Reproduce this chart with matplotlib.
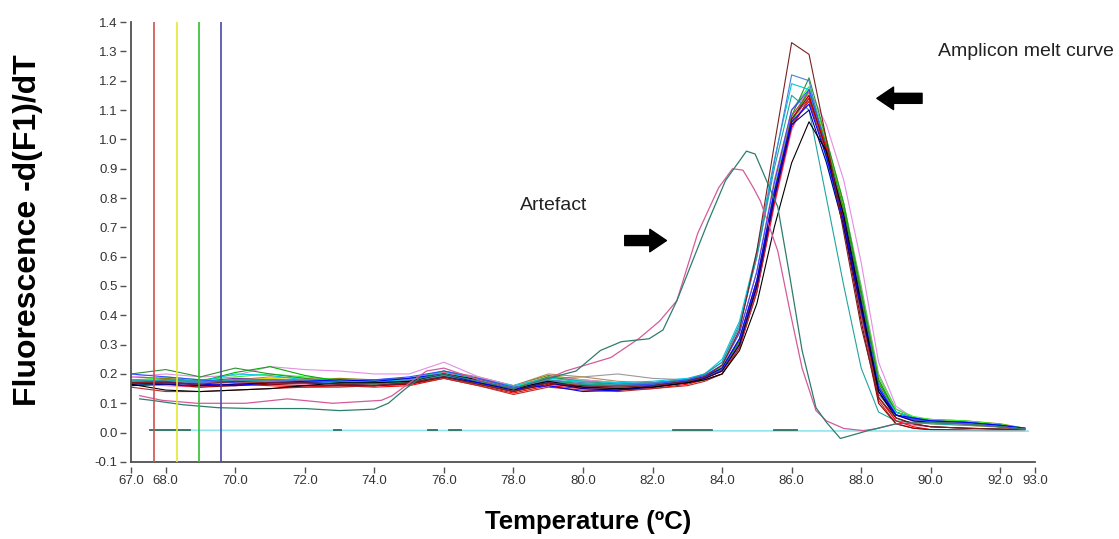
import matplotlib
matplotlib.use("Agg")
import matplotlib.pyplot as plt
import numpy as np

plt.rcParams['font.family'] = ['Liberation Sans', 'DejaVu Sans']

# temperature grid shared by the main melt curves (deg C)
temps = [67.0, 68.0, 69.0, 70.0, 71.0, 72.0, 73.0, 74.0, 75.0, 76.0, 77.0, 78.0,
         79.0, 80.0, 81.0, 82.0, 83.0, 83.5, 84.0, 84.5, 85.0, 85.5, 86.0, 86.5,
         87.0, 87.5, 88.0, 88.5, 89.0, 89.5, 90.0, 91.0, 92.0, 92.7]

# main amplicon curves, -d(F1)/dT
brown = [0.17, 0.17, 0.165, 0.175, 0.17, 0.17, 0.165, 0.16, 0.17, 0.19, 0.165, 0.14,
         0.17, 0.16, 0.155, 0.16, 0.175, 0.19, 0.23, 0.35, 0.62, 0.98, 1.33, 1.29,
         1.0, 0.68, 0.36, 0.12, 0.05, 0.03, 0.02, 0.015, 0.012, 0.01]
steel = [0.18, 0.175, 0.17, 0.18, 0.18, 0.175, 0.17, 0.17, 0.175, 0.2, 0.175, 0.15,
         0.18, 0.17, 0.165, 0.17, 0.18, 0.2, 0.24, 0.36, 0.6, 0.92, 1.22, 1.2,
         0.95, 0.7, 0.4, 0.13, 0.06, 0.045, 0.04, 0.03, 0.02, 0.012]
cyan = [0.175, 0.18, 0.175, 0.2, 0.195, 0.18, 0.175, 0.175, 0.18, 0.21, 0.18, 0.16,
        0.185, 0.175, 0.17, 0.175, 0.185, 0.2, 0.25, 0.38, 0.62, 0.93, 1.19, 1.17,
        0.93, 0.7, 0.42, 0.15, 0.07, 0.05, 0.04, 0.035, 0.025, 0.015]
dkgreen = [0.2, 0.215, 0.19, 0.22, 0.2, 0.185, 0.17, 0.165, 0.175, 0.2, 0.17, 0.15,
           0.19, 0.175, 0.165, 0.17, 0.18, 0.19, 0.22, 0.31, 0.5, 0.8, 1.08, 1.21,
           1.0, 0.78, 0.48, 0.18, 0.07, 0.05, 0.04, 0.035, 0.025, 0.015]
green = [0.16, 0.17, 0.175, 0.205, 0.225, 0.195, 0.175, 0.17, 0.17, 0.19, 0.165, 0.14,
         0.18, 0.165, 0.16, 0.165, 0.175, 0.19, 0.22, 0.31, 0.5, 0.8, 1.06, 1.17,
         0.98, 0.76, 0.47, 0.17, 0.07, 0.05, 0.04, 0.03, 0.02, 0.012]
black = [0.165, 0.145, 0.14, 0.145, 0.15, 0.16, 0.17, 0.17, 0.175, 0.2, 0.18, 0.15,
         0.175, 0.155, 0.15, 0.155, 0.17, 0.18, 0.2, 0.28, 0.44, 0.7, 0.92, 1.06,
         0.96, 0.74, 0.44, 0.14, 0.05, 0.03, 0.02, 0.015, 0.012, 0.01]
blue = [0.165, 0.17, 0.165, 0.16, 0.17, 0.175, 0.18, 0.175, 0.185, 0.2, 0.17, 0.15,
        0.16, 0.14, 0.145, 0.16, 0.175, 0.19, 0.22, 0.32, 0.52, 0.82, 1.06, 1.12,
        0.94, 0.72, 0.43, 0.15, 0.06, 0.05, 0.04, 0.035, 0.025, 0.015]
navy = [0.16, 0.165, 0.16, 0.165, 0.17, 0.17, 0.165, 0.16, 0.17, 0.19, 0.17, 0.145,
        0.17, 0.15, 0.145, 0.155, 0.17, 0.185, 0.21, 0.3, 0.5, 0.8, 1.05, 1.1,
        0.92, 0.7, 0.42, 0.14, 0.06, 0.04, 0.035, 0.03, 0.02, 0.012]
red = [0.17, 0.175, 0.16, 0.165, 0.16, 0.155, 0.16, 0.155, 0.16, 0.185, 0.16, 0.135,
       0.16, 0.15, 0.145, 0.15, 0.165, 0.18, 0.2, 0.29, 0.48, 0.78, 1.04, 1.14,
       0.97, 0.73, 0.42, 0.12, 0.04, 0.02, 0.01, 0.008, 0.006, 0.005]
darkred = [0.17, 0.165, 0.155, 0.16, 0.165, 0.16, 0.16, 0.16, 0.165, 0.19, 0.165, 0.14,
           0.165, 0.155, 0.15, 0.155, 0.17, 0.185, 0.21, 0.3, 0.5, 0.8, 1.07, 1.15,
           0.96, 0.7, 0.38, 0.1, 0.03, 0.015, 0.01, 0.008, 0.006, 0.005]
violet = [0.19, 0.2, 0.19, 0.195, 0.225, 0.215, 0.21, 0.2, 0.2, 0.24, 0.19, 0.16,
          0.19, 0.18, 0.17, 0.17, 0.18, 0.19, 0.22, 0.3, 0.48, 0.77, 1.03, 1.17,
          1.05, 0.86, 0.58, 0.24, 0.09, 0.05, 0.04, 0.035, 0.025, 0.015]
magenta = [0.175, 0.17, 0.17, 0.175, 0.18, 0.18, 0.175, 0.17, 0.18, 0.2, 0.175, 0.15,
           0.175, 0.165, 0.16, 0.165, 0.175, 0.19, 0.22, 0.32, 0.52, 0.82, 1.08, 1.16,
           0.97, 0.74, 0.45, 0.16, 0.06, 0.04, 0.035, 0.03, 0.02, 0.012]
yellow = [0.17, 0.175, 0.17, 0.18, 0.185, 0.18, 0.175, 0.17, 0.18, 0.2, 0.17, 0.145,
          0.17, 0.16, 0.155, 0.16, 0.17, 0.185, 0.21, 0.3, 0.5, 0.8, 1.06, 1.15,
          0.99, 0.77, 0.48, 0.17, 0.07, 0.045, 0.035, 0.03, 0.02, 0.012]
tan = [0.18, 0.185, 0.175, 0.18, 0.19, 0.185, 0.18, 0.18, 0.185, 0.21, 0.19, 0.16,
       0.2, 0.19, 0.175, 0.17, 0.18, 0.19, 0.21, 0.3, 0.5, 0.8, 1.05, 1.13,
       0.98, 0.76, 0.46, 0.16, 0.06, 0.045, 0.04, 0.035, 0.025, 0.015]
teal = [0.175, 0.18, 0.175, 0.18, 0.175, 0.17, 0.17, 0.17, 0.175, 0.195, 0.17, 0.15,
        0.175, 0.165, 0.16, 0.165, 0.18, 0.2, 0.24, 0.37, 0.6, 0.9, 1.15, 1.1,
        0.8, 0.5, 0.22, 0.07, 0.04, 0.035, 0.03, 0.025, 0.02, 0.012]
purple = [0.17, 0.18, 0.175, 0.185, 0.18, 0.175, 0.17, 0.165, 0.175, 0.195, 0.17, 0.145,
          0.175, 0.165, 0.16, 0.16, 0.175, 0.19, 0.215, 0.31, 0.51, 0.81, 1.07, 1.14,
          0.96, 0.73, 0.44, 0.15, 0.06, 0.045, 0.04, 0.035, 0.025, 0.015]
orange = [0.165, 0.17, 0.165, 0.17, 0.175, 0.17, 0.165, 0.165, 0.17, 0.195, 0.17, 0.14,
          0.17, 0.16, 0.155, 0.16, 0.17, 0.185, 0.21, 0.31, 0.51, 0.81, 1.08, 1.16,
          0.99, 0.75, 0.46, 0.16, 0.06, 0.04, 0.03, 0.025, 0.018, 0.01]
gray = [0.17, 0.17, 0.165, 0.175, 0.18, 0.175, 0.17, 0.17, 0.18, 0.2, 0.18, 0.15,
        0.185, 0.19, 0.2, 0.185, 0.18, 0.19, 0.215, 0.31, 0.51, 0.8, 1.06, 1.15,
        0.99, 0.78, 0.5, 0.2, 0.08, 0.05, 0.04, 0.035, 0.025, 0.015]
lime = [0.175, 0.19, 0.18, 0.19, 0.2, 0.19, 0.18, 0.175, 0.18, 0.21, 0.18, 0.155,
        0.19, 0.17, 0.165, 0.17, 0.18, 0.195, 0.225, 0.32, 0.52, 0.83, 1.1, 1.18,
        1.0, 0.78, 0.49, 0.19, 0.08, 0.055, 0.045, 0.04, 0.028, 0.015]
pink = [0.165, 0.16, 0.155, 0.165, 0.17, 0.165, 0.16, 0.165, 0.175, 0.205, 0.175, 0.145,
        0.17, 0.16, 0.155, 0.16, 0.175, 0.195, 0.23, 0.34, 0.55, 0.86, 1.1, 1.16,
        0.95, 0.71, 0.4, 0.12, 0.04, 0.025, 0.02, 0.015, 0.01, 0.008]
maroon = [0.155, 0.14, 0.14, 0.145, 0.15, 0.155, 0.155, 0.16, 0.165, 0.185, 0.16, 0.13,
          0.155, 0.145, 0.14, 0.15, 0.16, 0.175, 0.2, 0.29, 0.48, 0.79, 1.05, 1.13,
          0.95, 0.72, 0.41, 0.11, 0.03, 0.015, 0.01, 0.008, 0.006, 0.005]
olive = [0.19, 0.185, 0.175, 0.17, 0.175, 0.18, 0.185, 0.18, 0.185, 0.205, 0.185, 0.16,
         0.195, 0.18, 0.17, 0.165, 0.175, 0.19, 0.215, 0.31, 0.51, 0.81, 1.06, 1.15,
         0.99, 0.77, 0.48, 0.18, 0.07, 0.05, 0.045, 0.04, 0.03, 0.015]
royal = [0.2, 0.19, 0.18, 0.17, 0.165, 0.17, 0.175, 0.18, 0.19, 0.21, 0.185, 0.155,
         0.17, 0.155, 0.16, 0.165, 0.18, 0.195, 0.23, 0.34, 0.55, 0.85, 1.1, 1.17,
         0.97, 0.74, 0.45, 0.16, 0.06, 0.045, 0.04, 0.035, 0.025, 0.013]

main_curves = [
    (gray, '#9a9a9a'), (tan, '#b8895a'), (olive, '#80800a'), (violet, '#e48ee4'),
    (yellow, '#e0d800'), (orange, '#ff8c1a'), (lime, '#33ee33'), (purple, '#7a2fa8'),
    (magenta, '#cc3399'), (pink, '#ff66aa'), (green, '#00b000'), (dkgreen, '#2f8f2f'),
    (cyan, '#00c8e0'), (steel, '#4d7fd6'), (teal, '#1fa5a0'), (royal, '#3050ff'),
    (red, '#ff0000'), (maroon, '#b03030'), (darkred, '#990000'), (navy, '#000090'),
    (blue, '#0000ff'), (black, '#000000'), (brown, '#7a2020'),
]

# the two artefact samples (own temperature grids)
art_teal_t = [67.25, 67.6, 68.5, 69.5, 70.5, 72.0, 73.0, 74.0, 74.4, 74.9, 75.3, 76.0,
              77.0, 78.0, 79.0, 79.8, 80.5, 81.1, 81.9, 82.3, 82.7, 83.2, 83.6, 84.1,
              84.7, 84.95, 85.6, 85.95, 86.3, 86.7, 87.0, 87.4, 87.7, 88.2, 89.0, 90.0,
              91.0, 92.0, 92.7]
art_teal_y = [0.115, 0.11, 0.095, 0.085, 0.082, 0.082, 0.075, 0.08, 0.1, 0.15, 0.185, 0.2,
              0.175, 0.15, 0.185, 0.21, 0.28, 0.31, 0.32, 0.35, 0.45, 0.6, 0.72, 0.86,
              0.96, 0.95, 0.77, 0.53, 0.28, 0.085, 0.035, -0.02, -0.01, 0.007, 0.03, 0.035,
              0.03, 0.02, 0.012]
art_pink_t = [67.25, 67.9, 68.9, 69.9, 70.3, 71.5, 72.8, 74.2, 74.5, 75.1, 75.5, 76.0,
              77.0, 78.0, 79.0, 79.5, 80.8, 81.6, 82.2, 82.7, 83.3, 83.9, 84.3, 84.6,
              84.9, 85.1, 85.6, 85.95, 86.3, 86.7, 87.0, 87.5, 88.05, 88.4, 89.0, 90.0,
              91.0, 92.0, 92.7]
art_pink_y = [0.126, 0.11, 0.1, 0.1, 0.1, 0.115, 0.1, 0.11, 0.125, 0.177, 0.21, 0.22,
              0.18, 0.15, 0.185, 0.21, 0.256, 0.32, 0.38, 0.45, 0.68, 0.835, 0.9, 0.895,
              0.835, 0.79, 0.62, 0.415, 0.22, 0.075, 0.04, 0.014, 0.007, 0.012, 0.03, 0.035,
              0.03, 0.02, 0.012]

# no-template control: flat cyan trace plus a dark trace on zero
ntc_t = [67.6, 92.8]
ntc_y = [0.008, 0.005]
zero_dash_start = [67.55, 72.85, 75.55, 76.15, 82.6, 85.5]
zero_dash_end = [68.7, 73.05, 75.8, 76.5, 83.7, 86.15]

# melt-region marker lines
marker_t = [67.65, 68.32, 68.97, 69.58]
marker_colors = ['#d05050', '#e8e830', '#30c030', '#4848a8']

x_ticks = [67, 68, 70, 72, 74, 76, 78, 80, 82, 84, 86, 88, 90, 92, 93]
y_ticks = [-0.1, 0.0, 0.1, 0.2, 0.3, 0.4, 0.5, 0.6, 0.7, 0.8, 0.9, 1.0, 1.1, 1.2, 1.3, 1.4]

fig = plt.figure(figsize=(11.19, 5.39), dpi=100)
ax = fig.add_axes([0.117, 0.143, 0.808, 0.816])

for vals, col in main_curves:
    ax.plot(temps, vals, color=col, lw=0.8)

ax.plot(ntc_t, ntc_y, color='#8fe6ee', lw=1.2)
for a, b in zip(zero_dash_start, zero_dash_end):
    ax.plot([a, b], [0.008, 0.008], color='#2f6f5f', lw=1.3)

ax.plot(art_pink_t, art_pink_y, color='#d45a9c', lw=0.9)
ax.plot(art_teal_t, art_teal_y, color='#2e7d6c', lw=0.9)

for t, c in zip(marker_t, marker_colors):
    ax.axvline(t, color=c, lw=1.2, zorder=5)

ax.set_xlim(67, 93)
ax.set_ylim(-0.1, 1.4)
ax.set_xticks(x_ticks)
ax.set_xticklabels(['%.1f' % v for v in x_ticks])
ax.set_yticks(y_ticks)
ax.set_yticklabels(['%.1f' % v for v in y_ticks])

# ticks sit a little away from the axis lines, as in the instrument export
for s in ['top', 'right']:
    ax.spines[s].set_visible(False)
for s in ['left', 'bottom']:
    ax.spines[s].set_position(('outward', 3.5))
    ax.spines[s].set_color('none')
ax.axvline(67, color='#505050', lw=1.3, clip_on=False)
ax.axhline(-0.1, color='#505050', lw=1.3, clip_on=False)
ax.tick_params(direction='out', length=4, width=1, color='#505050',
               labelsize=9.5, labelcolor='#333333', pad=2)

ax.text(78.2, 0.775, 'Artefact', fontsize=14, color='#222222', va='center')
ax.text(90.2, 1.30, 'Amplicon melt curve', fontsize=14, color='#222222', va='center')
arrow = dict(arrowstyle='simple,head_length=1.0,head_width=1.35,tail_width=0.6',
             color='black', shrinkA=0, shrinkB=0, mutation_scale=12)
ax.annotate('', xy=(82.4, 0.655), xytext=(81.2, 0.655), arrowprops=arrow)
ax.annotate('', xy=(88.45, 1.14), xytext=(89.75, 1.14), arrowprops=arrow)

fig.text(0.025, 0.573, 'Fluorescence -d(F1)/dT', rotation=90, fontsize=23,
         fontweight='bold', ha='center', va='center')
fig.text(0.526, 0.031, 'Temperature (\u00baC)', fontsize=18.5, fontweight='bold',
         ha='center', va='center')

fig.savefig('out.png', dpi=100)
